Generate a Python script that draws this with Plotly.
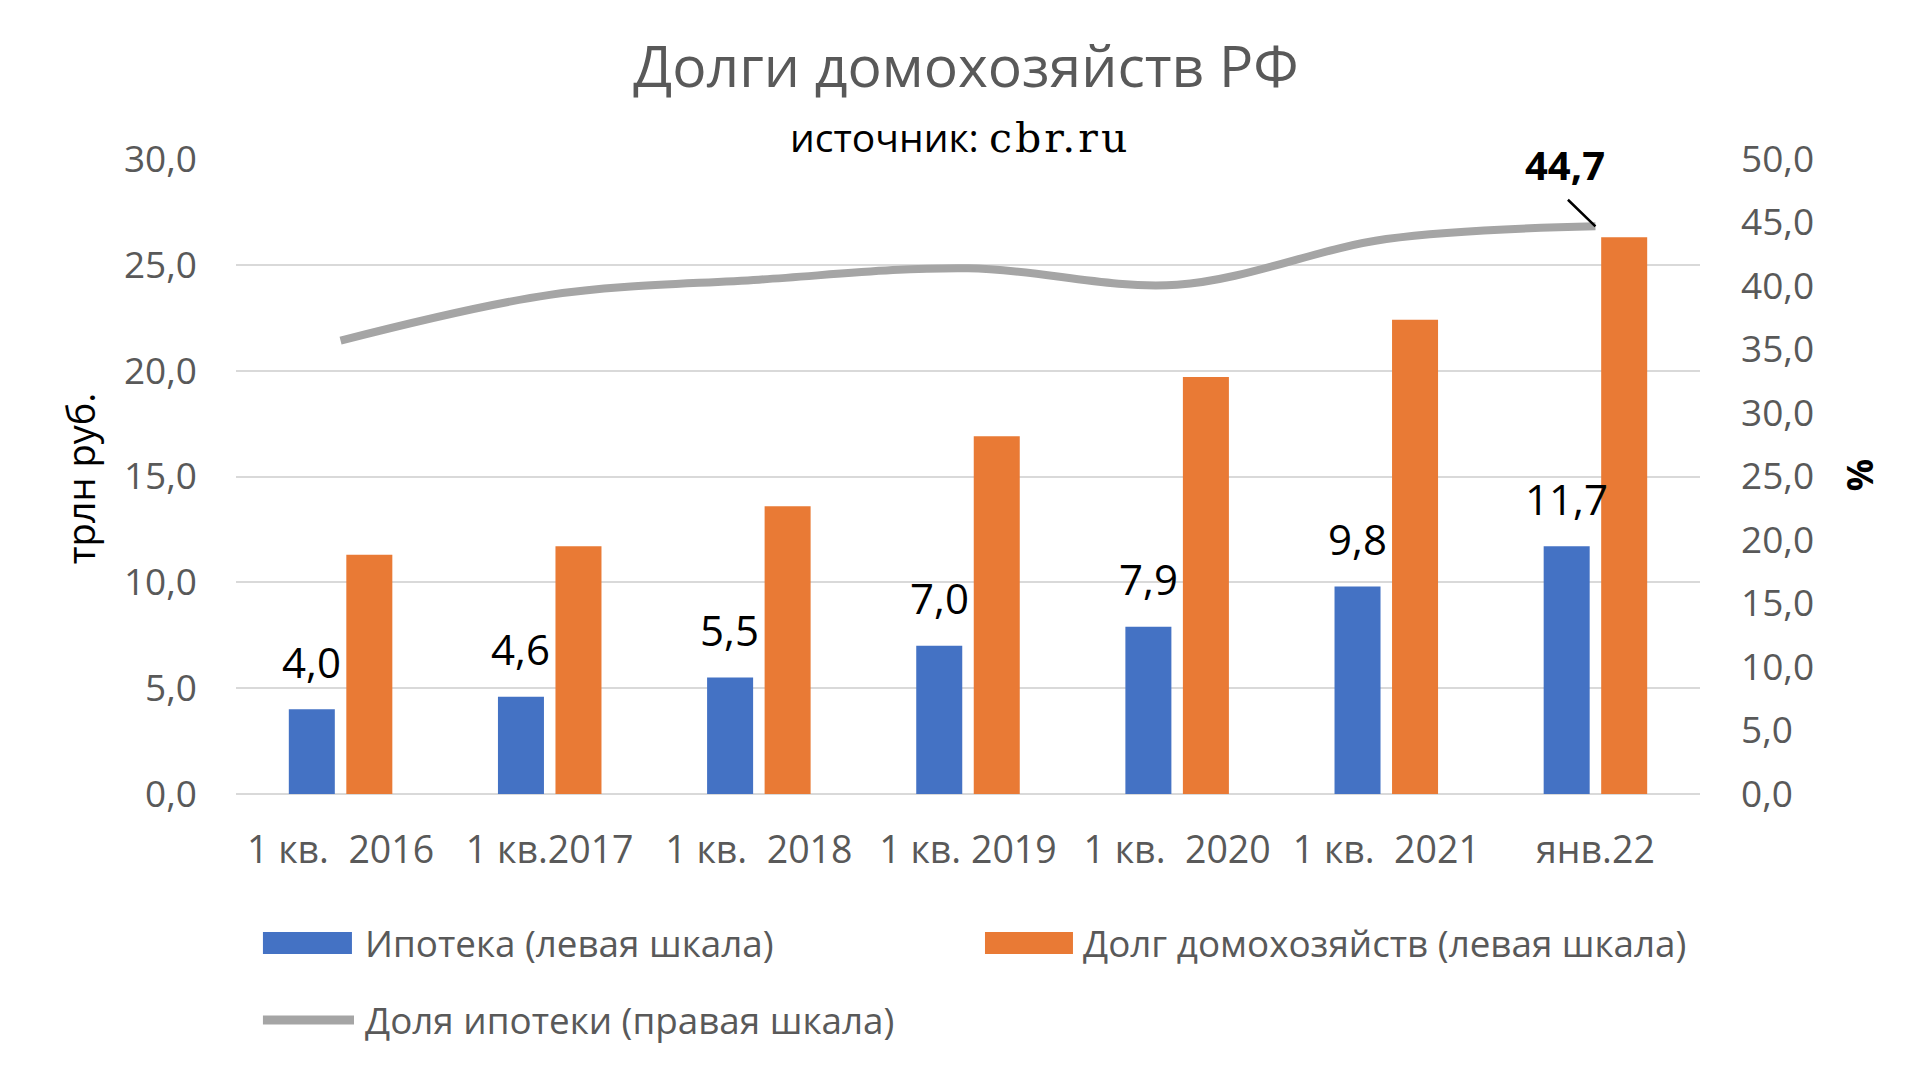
import plotly.graph_objects as go

# ---- data ----
categories = ["1 кв.\u00a0\u00a02016", "1 кв.2017", "1 кв.\u00a0\u00a02018", "1 кв. 2019",
              "1 кв.\u00a0\u00a02020", "1 кв.\u00a0\u00a02021", "янв.22"]
mortgage = [4.0, 4.6, 5.5, 7.0, 7.9, 9.8, 11.7]
household_debt = [11.3, 11.7, 13.6, 16.9, 19.7, 22.4, 26.3]
mortgage_share = [35.7, 39.3, 40.5, 41.4, 40.1, 43.7, 44.7]
left_ticks = [0, 5, 10, 15, 20, 25, 30]
right_ticks = [0, 5, 10, 15, 20, 25, 30, 35, 40, 45, 50]

name_mortgage = "Ипотека (левая шкала)"
name_debt = "Долг домохозяйств (левая шкала)"
name_share = "Доля ипотеки (правая шкала)"

BLUE = "#4472C4"
ORANGE = "#E97A35"
GRAY = "#A5A5A5"
GRID = "#D9D9D9"
TXT = "#595959"
FONT = "Open Sans"

def fmt(v):
    return f"{v:.1f}".replace(".", ",")

fig = go.Figure()
fig.add_trace(go.Bar(x=categories, y=mortgage, name=name_mortgage, marker_color=BLUE,
                     marker_line_width=0, yaxis="y"))
fig.add_trace(go.Bar(x=categories, y=household_debt, name=name_debt, marker_color=ORANGE,
                     marker_line_width=0, yaxis="y"))
fig.add_trace(go.Scatter(x=categories, y=mortgage_share, name=name_share, mode="lines",
                         line=dict(color=GRAY, width=8, shape="spline", smoothing=1),
                         yaxis="y2"))

annotations = []
# data labels above mortgage bars
for c, v in zip(categories, mortgage):
    annotations.append(dict(x=c, y=v, xref="x", yref="y", text=fmt(v), showarrow=False,
                            xshift=-29, yshift=48, yanchor="middle",
                            font=dict(family=FONT, size=42, color="#000000")))
# last share label with leader line
annotations.append(dict(x=categories[-1], y=mortgage_share[-1], xref="x", yref="y2",
                        text="<b>" + fmt(mortgage_share[-1]) + "</b>", showarrow=False,
                        xshift=-30, yshift=62, yanchor="middle",
                        font=dict(family=FONT, size=40, color="#000000")))
annotations.append(dict(x=categories[-1], y=mortgage_share[-1], xref="x", yref="y2",
                        text="", showarrow=True, arrowhead=0, arrowwidth=2.5,
                        arrowcolor="#000000", ax=-29, ay=-28, standoff=0))
# subtitle
annotations.append(dict(x=0.4945, y=1.035, xref="paper", yref="paper", showarrow=False,
                        xanchor="center", yanchor="middle",
                        text="источник: <span style='font-family:DejaVu Serif;font-size:41px;letter-spacing:3px'>cbr.ru</span>",
                        font=dict(family=FONT, size=39, color="#000000")))
# axis titles
annotations.append(dict(x=-0.1066, y=0.497, xref="paper", yref="paper", showarrow=False,
                        xanchor="center", yanchor="middle", textangle=-90,
                        text="трлн руб.", font=dict(family=FONT, size=38, color="#000000")))
annotations.append(dict(x=1.1086, y=0.502, xref="paper", yref="paper", showarrow=False,
                        xanchor="center", yanchor="middle", textangle=-90,
                        text="<b>%</b>", font=dict(family=FONT, size=36, color="#000000")))

# manual legend
shapes = []
leg_items = [
    (name_mortgage, "rect", BLUE, 0.0184, 0.0792, 0.0867, -0.2346),
    (name_debt, "rect", ORANGE, 0.5116, 0.5717, 0.5772, -0.2346),
    (name_share, "line", GRAY, 0.0184, 0.0806, 0.0867, -0.356),
]
for name, kind, col, x0, x1, tx, ty in leg_items:
    if kind == "rect":
        shapes.append(dict(type="rect", xref="paper", yref="paper", x0=x0, x1=x1,
                           y0=ty - 0.0173, y1=ty + 0.0173, fillcolor=col, line_width=0))
    else:
        shapes.append(dict(type="line", xref="paper", yref="paper", x0=x0, x1=x1,
                           y0=ty, y1=ty, line=dict(color=col, width=9)))
    annotations.append(dict(x=tx, y=ty, xref="paper", yref="paper", showarrow=False,
                            xanchor="left", yanchor="middle", text=name,
                            font=dict(family=FONT, size=36.8, color=TXT)))

fig.update_layout(
    width=1902, height=1051,
    margin=dict(l=228, r=210, t=151, b=265),
    paper_bgcolor="white", plot_bgcolor="white",
    separators=", ",
    barmode="group", bargap=0.45, bargroupgap=0.2,
    showlegend=False,
    title=dict(text="Долги домохозяйств РФ", x=0.5037, xanchor="center", y=0.9439,
               yanchor="middle", font=dict(family=FONT, size=57, color=TXT)),
    font=dict(family=FONT, color=TXT),
    xaxis=dict(tickfont=dict(family=FONT, size=37.5, color=TXT), showgrid=False,
               showline=False, ticks="", ticklabelstandoff=30),
    yaxis=dict(range=[0, 30], tickvals=left_ticks, tickformat=".1f",
               tickfont=dict(family=FONT, size=37, color=TXT),
               showgrid=True, gridcolor=GRID, gridwidth=2,
               zeroline=True, zerolinecolor=GRID, zerolinewidth=2,
               showline=False, ticks="", ticklabelstandoff=38),
    yaxis2=dict(range=[0, 50], tickvals=right_ticks, tickformat=".1f", overlaying="y",
                side="right", showgrid=False, zeroline=False, showline=False, ticks="",
                tickfont=dict(family=FONT, size=37, color=TXT), ticklabelstandoff=40),
    annotations=annotations,
    shapes=shapes,
)

fig.write_html("out.html")
